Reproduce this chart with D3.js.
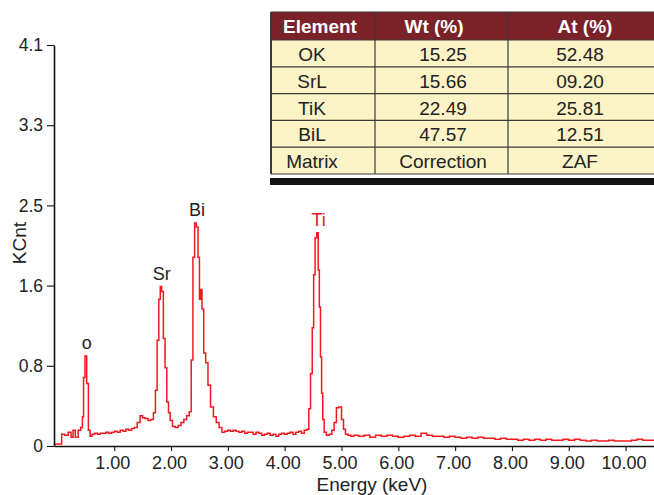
<!DOCTYPE html>
<html>
<head>
<meta charset="utf-8">
<script src="https://cdn.jsdelivr.net/npm/d3@7"></script>
<style>
  body { margin: 0; background: #fff; }
  svg { font-family: "Liberation Sans", Arial, sans-serif; }
</style>
</head>
<body>
<div id="chart"></div>
<script>
// spectrum (keV, KCnt)
const energy = [
  -0.06, 0.05, 0.10, 0.16, 0.22, 0.26, 0.29, 0.34, 0.39, 0.43, 0.45, 0.47, 0.50, 0.53, 0.56, 0.59,
  0.63, 0.68, 0.73, 0.78, 0.83, 0.88, 0.93, 0.98, 1.03, 1.08, 1.13, 1.18, 1.23, 1.28, 1.33, 1.38,
  1.43, 1.48, 1.52, 1.57, 1.62, 1.67, 1.71, 1.74, 1.77, 1.80, 1.82, 1.85, 1.88, 1.91, 1.94, 1.97,
  2.00, 2.05, 2.10, 2.15, 2.20, 2.25, 2.30, 2.34, 2.37, 2.40, 2.43, 2.46, 2.49, 2.51, 2.53, 2.56,
  2.59, 2.63, 2.67, 2.72, 2.77, 2.82, 2.87, 2.92, 2.97, 3.02, 3.07, 3.12, 3.17, 3.22, 3.27, 3.32,
  3.37, 3.42, 3.47, 3.52, 3.57, 3.62, 3.67, 3.72, 3.77, 3.82, 3.87, 3.92, 3.97, 4.02, 4.07, 4.12,
  4.17, 4.22, 4.27, 4.32, 4.37, 4.41, 4.44, 4.47, 4.50, 4.52, 4.55, 4.58, 4.60, 4.62, 4.64, 4.66,
  4.68, 4.71, 4.76, 4.81, 4.85, 4.89, 4.93, 4.98, 5.02, 5.05, 5.09, 5.14, 5.19,
  5.25, 5.35, 5.45, 5.55, 5.65, 5.75, 5.85, 5.95, 6.05, 6.15, 6.25, 6.35, 6.45, 6.55, 6.65, 6.75,
  6.85, 6.95, 7.05, 7.15, 7.25, 7.35, 7.45, 7.55, 7.65, 7.75, 7.85, 7.95, 8.05, 8.15, 8.25, 8.35,
  8.45, 8.55, 8.65, 8.75, 8.85, 8.95, 9.05, 9.15, 9.25, 9.35, 9.45, 9.55, 9.65, 9.75, 9.85, 9.95,
  10.05, 10.15, 10.25, 10.35, 10.45, 10.52
];
const counts = [
  0.02, 0.02, 0.12, 0.11, 0.14, 0.09, 0.16, 0.09, 0.16, 0.19, 0.30, 0.70, 0.92, 0.64, 0.16, 0.10,
  0.12, 0.13, 0.12, 0.13, 0.13, 0.14, 0.13, 0.14, 0.15, 0.14, 0.16, 0.15, 0.17, 0.16, 0.18, 0.19,
  0.24, 0.31, 0.29, 0.28, 0.26, 0.27, 0.34, 0.57, 1.08, 1.50, 1.63, 1.58, 1.10, 0.80, 0.45, 0.34,
  0.26, 0.20, 0.19, 0.21, 0.24, 0.27, 0.31, 0.35, 0.88, 1.93, 2.28, 2.24, 1.93, 1.50, 1.60, 1.40,
  0.95, 0.85, 0.62, 0.40, 0.30, 0.24, 0.19, 0.14, 0.15, 0.16, 0.15, 0.16, 0.15, 0.14, 0.15, 0.13,
  0.14, 0.14, 0.12, 0.14, 0.13, 0.11, 0.12, 0.13, 0.11, 0.12, 0.10, 0.12, 0.13, 0.12, 0.13, 0.14,
  0.12, 0.14, 0.15, 0.13, 0.16, 0.17, 0.38, 0.74, 1.21, 1.75, 2.13, 2.18, 1.80, 1.42, 0.91, 0.54,
  0.27, 0.14, 0.11, 0.12, 0.16, 0.24, 0.39, 0.40, 0.27, 0.17, 0.12, 0.11, 0.10,
  0.11, 0.10, 0.11, 0.09, 0.11, 0.10, 0.11, 0.10, 0.09, 0.10, 0.11, 0.10, 0.13, 0.11, 0.10, 0.10,
  0.09, 0.10, 0.09, 0.08, 0.09, 0.08, 0.09, 0.08, 0.08, 0.07, 0.08, 0.07, 0.07, 0.06, 0.07, 0.06,
  0.07, 0.06, 0.07, 0.06, 0.06, 0.07, 0.06, 0.07, 0.06, 0.05, 0.06, 0.05, 0.05, 0.06, 0.05, 0.05,
  0.05, 0.06, 0.07, 0.06, 0.06, 0.06
];

const peakLabels = ["o", "Sr", "Bi", "Ti"];
const peakEnergy = [0.50, 1.82, 2.44, 4.58];
const peakCounts = [0.92, 1.63, 2.28, 2.18];
const peakColors = ["#222", "#222", "#222", "#e8141b"];

const xTicks = [1, 2, 3, 4, 5, 6, 7, 8, 9, 10];
const yTicks = [0, 0.82, 1.64, 2.46, 3.28, 4.1];
const yTickLabels = ["0", "0.8", "1.6", "2.5", "3.3", "4.1"];

const tableHeader = ["Element", "Wt (%)", "At (%)"];
const elements = ["OK", "SrL", "TiK", "BiL", "Matrix"];
const wtPct = ["15.25", "15.66", "22.49", "47.57", "Correction"];
const atPct = ["52.48", "09.20", "25.81", "12.51", "ZAF"];

const W = 654, H = 495;
const plot = { left: 54, right: 654, top: 45, bottom: 446 };

const svg = d3.select("#chart").append("svg")
    .attr("width", W)
    .attr("height", H);

svg.append("rect").attr("width", W).attr("height", H).attr("fill", "#fff");

const x = d3.scaleLinear().domain([-0.06, 10.5]).range([plot.left, plot.right]);
const y = d3.scaleLinear().domain([0, 4.1]).range([plot.bottom, plot.top]);

// spectrum
svg.append("defs").append("clipPath").attr("id", "clip")
    .append("rect")
    .attr("x", plot.left).attr("y", 0)
    .attr("width", plot.right - plot.left).attr("height", plot.bottom);

const spec = energy.map((e, i) => ({ e: e, c: counts[i] }));
const line = d3.line()
    .x(d => x(d.e))
    .y(d => y(d.c))
    .curve(d3.curveStep);

svg.append("path")
    .datum(spec)
    .attr("clip-path", "url(#clip)")
    .attr("fill", "none")
    .attr("stroke", "#f2191f")
    .attr("stroke-width", 1.5)
    .attr("d", line);

// axes
const xAxis = d3.axisBottom(x)
    .tickValues(xTicks)
    .tickFormat(d3.format(".2f"))
    .tickSize(5)
    .tickSizeOuter(0)
    .tickPadding(5);

const xg = svg.append("g")
    .attr("transform", `translate(0, ${plot.bottom})`)
    .call(xAxis);

const yAxis = d3.axisLeft(y)
    .tickValues(yTicks)
    .tickFormat((d, i) => yTickLabels[i])
    .tickSize(7)
    .tickSizeOuter(0)
    .tickPadding(4);

const yg = svg.append("g")
    .attr("transform", `translate(${plot.left}, 0)`)
    .call(yAxis);

[xg, yg].forEach(g => {
    g.select(".domain").attr("stroke", "#111").attr("stroke-width", 1.6);
    g.selectAll(".tick line").attr("stroke", "#111").attr("stroke-width", 1.1);
    g.selectAll(".tick text")
        .attr("fill", "#222")
        .style("font-family", "'Liberation Sans', Arial, sans-serif");
});
xg.selectAll(".tick text").style("font-size", "18px").attr("dx", "-2");
yg.selectAll(".tick text").style("font-size", "17.5px");

svg.append("text")
    .attr("x", 372)
    .attr("y", 491)
    .attr("text-anchor", "middle")
    .attr("fill", "#222")
    .style("font-size", "19px")
    .text("Energy (keV)");

svg.append("text")
    .attr("transform", `translate(26, 243) rotate(-90)`)
    .attr("text-anchor", "middle")
    .attr("fill", "#222")
    .style("font-size", "19px")
    .text("KCnt");

// peak labels
svg.selectAll(".peak")
    .data(peakLabels)
    .enter()
    .append("text")
    .attr("class", "peak")
    .attr("x", (d, i) => x(peakEnergy[i]) + 1)
    .attr("y", (d, i) => y(peakCounts[i]) - 7)
    .attr("text-anchor", "middle")
    .attr("fill", (d, i) => peakColors[i])
    .style("font-size", "18px")
    .text(d => d);

// table
const tbl = { left: 271, top: 12, headH: 28, rowH: 26.8 };
const colEdges = [271, 375, 508, 654];
const headCenters = [320, 434, 585];
const cellCenters = [312, 443, 580];

const tg = svg.append("g").attr("class", "table");
const bodyTop = tbl.top + tbl.headH;
const bodyBottom = bodyTop + elements.length * tbl.rowH;

tg.append("rect")
    .attr("x", colEdges[0]).attr("y", tbl.top)
    .attr("width", colEdges[3] - colEdges[0]).attr("height", tbl.headH)
    .attr("fill", "#7b2228");

tg.append("rect")
    .attr("x", colEdges[0]).attr("y", bodyTop)
    .attr("width", colEdges[3] - colEdges[0]).attr("height", bodyBottom - bodyTop)
    .attr("fill", "#fcf4c6");

// grid lines
const rowLines = d3.range(elements.length + 1).map(i => bodyTop + i * tbl.rowH);
tg.selectAll(".hline")
    .data([tbl.top].concat(rowLines))
    .enter()
    .append("line")
    .attr("x1", colEdges[0]).attr("x2", colEdges[3])
    .attr("y1", d => d).attr("y2", d => d)
    .attr("stroke", "#3a3a3a")
    .attr("stroke-width", 1.2);

tg.selectAll(".vline")
    .data(colEdges.slice(0, 3))
    .enter()
    .append("line")
    .attr("x1", d => d).attr("x2", d => d)
    .attr("y1", tbl.top).attr("y2", bodyBottom)
    .attr("stroke", "#3a3a3a")
    .attr("stroke-width", (d, i) => i === 0 ? 2 : 1.2);

tg.append("rect")
    .attr("x", colEdges[0] - 1).attr("y", bodyBottom + 4)
    .attr("width", colEdges[3] - colEdges[0] + 1).attr("height", 7)
    .attr("fill", "#111");

tg.selectAll(".head")
    .data(tableHeader)
    .enter()
    .append("text")
    .attr("x", (d, i) => headCenters[i])
    .attr("y", tbl.top + 21)
    .attr("text-anchor", "middle")
    .attr("fill", "#fff")
    .style("font-size", "19px")
    .style("font-weight", "bold")
    .text(d => d);

const columns = [elements, wtPct, atPct];
columns.forEach((col, ci) => {
    tg.selectAll(".c" + ci)
        .data(col)
        .enter()
        .append("text")
        .attr("x", cellCenters[ci])
        .attr("y", (d, i) => bodyTop + i * tbl.rowH + 21)
        .attr("text-anchor", "middle")
        .attr("fill", "#222")
        .style("font-size", "19px")
        .text(d => d);
});
</script>
</body>
</html>
